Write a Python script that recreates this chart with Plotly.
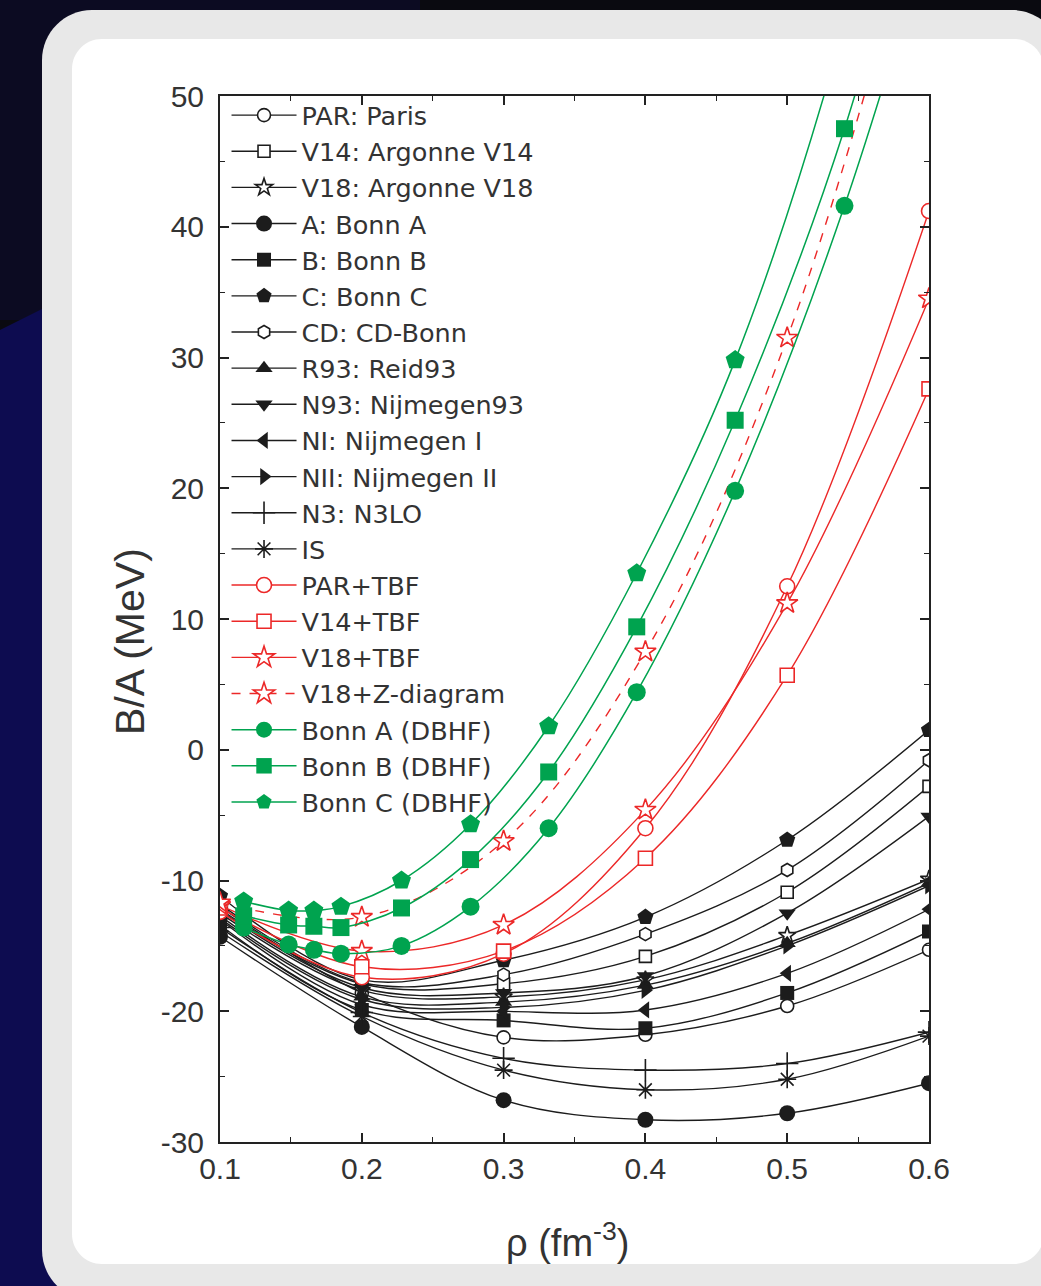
import plotly.graph_objects as go

# ---------------- data ----------------
rho = [0.1, 0.2, 0.3, 0.4, 0.5, 0.6]

# BHF with two-body forces only (black)
par   = [-12.0, -18.6, -22.0, -21.8, -19.6, -15.3]
v14   = [-12.2, -17.9, -17.9, -15.8, -10.9, -2.8]
v18   = [-12.5, -18.4, -18.9, -17.6, -14.2, -9.9]
bonnA = [-14.3, -21.2, -26.8, -28.3, -27.8, -25.5]
bonnB = [-13.4, -19.9, -20.7, -21.3, -18.6, -13.9]
bonnC = [-11.2, -17.6, -16.1, -12.8, -6.9, 1.5]
cdb   = [-11.8, -17.8, -17.2, -14.1, -9.2, -0.8]
r93   = [-12.7, -18.9, -19.3, -18.0, -14.8, -10.2]
n93   = [-12.3, -18.2, -18.6, -17.3, -12.5, -5.1]
nI    = [-13.0, -19.5, -20.0, -19.9, -17.1, -12.2]
nII   = [-12.9, -19.1, -19.7, -18.4, -15.0, -10.4]
n3lo  = [-13.6, -20.1, -23.6, -24.5, -24.0, -21.6]
isp   = [-13.9, -20.4, -24.5, -26.0, -25.2, -21.9]

# with three-body forces (red)
par_tbf = [-12.4, -17.4, -15.6, -6.0, 12.5, 41.2]
v14_tbf = [-12.1, -16.6, -15.4, -8.3, 5.7, 27.6]
v18_tbf = [-11.9, -15.4, -13.4, -4.6, 11.2, 34.5]
v18_z   = [-11.7, -12.8, -7.0, 7.5, 31.5, 68.0]

# DBHF (green)
rho_d   = [0.1167, 0.1484, 0.1662, 0.1853, 0.2280, 0.2767, 0.3318, 0.3939, 0.4633, 0.5404, 0.6255]
dbhf_a  = [-13.6, -14.9, -15.3, -15.6, -15.0, -12.0, -6.0, 4.4, 19.8, 41.6, 72.0]
dbhf_b  = [-12.7, -13.4, -13.5, -13.6, -12.1, -8.4, -1.7, 9.4, 25.2, 47.5, 82.0]
dbhf_c  = [-11.6, -12.3, -12.3, -12.0, -10.0, -5.7, 1.8, 13.5, 29.8, 55.5, 95.0]
dbhf_shown = [1, 1, 1, 1, 1, 1, 1, 1, 1, 1, 0]

x_ticks = [0.1, 0.2, 0.3, 0.4, 0.5, 0.6]
y_ticks = [-30, -20, -10, 0, 10, 20, 30, 40, 50]

# ---------------- styles ----------------
BLACK = "#1c1c1c"
RED = "rgb(236,40,40)"
GREEN = "rgb(0,163,79)"
FONT = "Liberation Sans, Arial, sans-serif"
LFONT = "DejaVu Sans, Liberation Sans, sans-serif"

fig = go.Figure()

def add(name, x, y, color, symbol, size, filled, dash="solid", lw=1.4, sizes=None):
    if filled:
        mk = dict(symbol=symbol, size=sizes if sizes is not None else size, color=color,
                  opacity=1, line=dict(width=0, color=color))
    else:
        if symbol in ("asterisk-open", "cross-thin-open"):
            mk = dict(symbol=symbol, size=size, color=color, opacity=1,
                      line=dict(width=1.6, color=color))
        else:
            mk = dict(symbol=symbol, size=size, color="white", opacity=1,
                      line=dict(width=1.6, color=color))
    fig.add_trace(go.Scatter(
        x=x, y=y, name=name, mode="lines+markers",
        line=dict(color=color, width=lw, shape="spline", smoothing=1.0, dash=dash),
        marker=mk, legendgroup=name, cliponaxis=True))

add("PAR: Paris", rho, par, BLACK, "circle", 13, False)
add("V14: Argonne V14", rho, v14, BLACK, "square", 12, False)
add("V18: Argonne V18", rho, v18, BLACK, "star", 13, False)
add("A: Bonn A", rho, bonnA, BLACK, "circle", 16, True)
add("B: Bonn B", rho, bonnB, BLACK, "square", 14, True)
add("C: Bonn C", rho, bonnC, BLACK, "pentagon", 17, True)
add("CD: CD-Bonn", rho, cdb, BLACK, "hexagon", 13, False)
add("R93: Reid93", rho, r93, BLACK, "triangle-up", 15, True)
add("N93: Nijmegen93", rho, n93, BLACK, "triangle-down", 15, True)
add("NI: Nijmegen I", rho, nI, BLACK, "triangle-left", 15, True)
add("NII: Nijmegen II", rho, nII, BLACK, "triangle-right", 15, True)
add("N3: N3LO", rho, n3lo, BLACK, "cross-thin-open", 16, False)
add("IS", rho, isp, BLACK, "asterisk-open", 15, False)
add("PAR+TBF", rho, par_tbf, RED, "circle", 15, False)
add("V14+TBF", rho, v14_tbf, RED, "square", 14, False)
add("V18+TBF", rho, v18_tbf, RED, "star", 16, False)
add("V18+Z-diagram", rho, v18_z, RED, "star", 16, False, dash="dash")
add("Bonn A (DBHF)", rho_d, dbhf_a, GREEN, "circle", 18, True, lw=1.5,
    sizes=[18 * s for s in dbhf_shown])
add("Bonn B (DBHF)", rho_d, dbhf_b, GREEN, "square", 17, True, lw=1.5,
    sizes=[17 * s for s in dbhf_shown])
add("Bonn C (DBHF)", rho_d, dbhf_c, GREEN, "pentagon", 20, True, lw=1.5,
    sizes=[20 * s for s in dbhf_shown])

# ---------------- layout geometry ----------------
W, H = 1041, 1286
L, R, T, B = 220, 112, 96, 144
PW, PH = W - L - R, H - T - B

def X(px):
    return (px - L) / PW

def Y(py):
    return (H - B - py) / PH

def rrect(x0, y0, x1, y1, r):
    k = 0.5523 * r
    p = []
    p.append(f"M {X(x0 + r)},{Y(y0)}")
    p.append(f"L {X(x1 - r)},{Y(y0)}")
    p.append(f"C {X(x1 - r + k)},{Y(y0)} {X(x1)},{Y(y0 + r - k)} {X(x1)},{Y(y0 + r)}")
    p.append(f"L {X(x1)},{Y(y1 - r)}")
    p.append(f"C {X(x1)},{Y(y1 - r + k)} {X(x1 - r + k)},{Y(y1)} {X(x1 - r)},{Y(y1)}")
    p.append(f"L {X(x0 + r)},{Y(y1)}")
    p.append(f"C {X(x0 + r - k)},{Y(y1)} {X(x0)},{Y(y1 - r + k)} {X(x0)},{Y(y1 - r)}")
    p.append(f"L {X(x0)},{Y(y0 + r)}")
    p.append(f"C {X(x0)},{Y(y0 + r - k)} {X(x0 + r - k)},{Y(y0)} {X(x0 + r)},{Y(y0)}")
    p.append("Z")
    return " ".join(p)

shapes = [
    dict(type="rect", xref="paper", yref="paper", x0=X(0), x1=X(420), y0=Y(0), y1=Y(320),
         fillcolor="#0c0b22", line=dict(width=0), layer="below"),
    dict(type="path", xref="paper", yref="paper",
         path=f"M {X(0)},{Y(330)} L {X(60)},{Y(300)} L {X(60)},{Y(H)} L {X(0)},{Y(H)} Z",
         fillcolor="#0d0c50", line=dict(width=0), layer="below"),
    dict(type="path", xref="paper", yref="paper", path=rrect(42, 10, 1062, 1300, 50),
         fillcolor="#e8e8e8", line=dict(width=0), layer="below"),
    dict(type="path", xref="paper", yref="paper", path=rrect(72, 39, 1044, 1264, 30),
         fillcolor="#ffffff", line=dict(width=0), layer="below"),
]

axis_common = dict(
    showgrid=False, zeroline=False, showline=True, linecolor="#222222", linewidth=2,
    mirror="allticks", ticks="inside", ticklen=9, tickwidth=1.6, tickcolor="#222222",
    tickfont=dict(family=FONT, size=30, color="#333333"),
)

fig.update_layout(
    width=W, height=H, autosize=False,
    margin=dict(l=L, r=R, t=T, b=B, pad=0),
    paper_bgcolor="#0a0a10", plot_bgcolor="rgba(0,0,0,0)",
    shapes=shapes,
    xaxis=dict(range=[0.1, 0.6], tickvals=x_ticks, ticktext=[f"{v:.1f}" for v in x_ticks],
               ticklabelstandoff=-1,
               minor=dict(ticks="inside", ticklen=5, tickwidth=1.4, tickcolor="#222222", dtick=0.05, tick0=0.1),
               **axis_common),
    yaxis=dict(range=[-30, 50], tickvals=y_ticks, ticktext=[str(v) for v in y_ticks],
               ticklabelstandoff=8,
               minor=dict(ticks="inside", ticklen=5, tickwidth=1.4, tickcolor="#222222", dtick=5, tick0=0),
               **axis_common),
    showlegend=True,
    legend=dict(x=0.0092, y=1.0038, xanchor="left", yanchor="top", bgcolor="rgba(0,0,0,0)",
                font=dict(family=LFONT, size=25.5, color="#333333"), itemsizing="trace",
                itemwidth=65, tracegroupgap=0, borderwidth=0, maxheight=1.0),
    annotations=[
        dict(text="B/A (MeV)", xref="paper", yref="paper", x=X(130), y=Y(642), textangle=-90,
             showarrow=False, font=dict(family=FONT, size=41, color="#333333"),
             xanchor="center", yanchor="middle"),
        dict(text="ρ (fm<sup>-3</sup>)", xref="paper", yref="paper", x=X(567), y=Y(1240),
             showarrow=False, font=dict(family=FONT, size=38, color="#333333"),
             xanchor="center", yanchor="middle"),
    ],
)

fig.write_html(
    "out.html",
    config=dict(displayModeBar=False),
    post_script="document.body.style.margin='0';document.body.style.padding='0';"
                "document.documentElement.style.overflow='hidden';",
)
